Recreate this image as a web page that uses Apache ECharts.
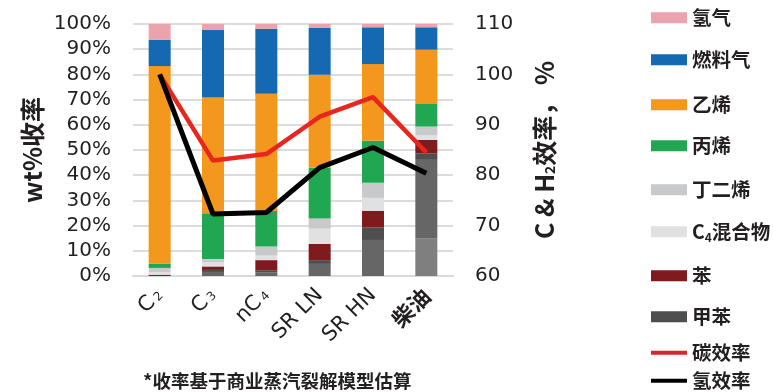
<!DOCTYPE html>
<html>
<head>
<meta charset="utf-8">
<script src="https://cdn.jsdelivr.net/npm/echarts@6/dist/echarts.min.js"></script>
<style>
  html, body { margin: 0; padding: 0; background: #fff; }
  #chart { width: 773px; height: 392px; }
</style>
</head>
<body>
<div id="chart"></div>
<script>
// Steam-cracking yields by feedstock (wt%, stacked) with carbon / hydrogen efficiency lines
const categories = ['C2', 'C3', 'nC4', 'SR LN', 'SR HN', '柴油'];

const hydrogen   = [6.2, 2.4, 1.9, 1.6, 1.3, 1.3];
const fuelGas    = [10.5, 26.8, 25.8, 18.5, 14.6, 8.9];
const ethylene   = [78.4, 45.9, 46.5, 36.9, 30.4, 21.5];
const propylene  = [1.7, 18.2, 14.1, 20.2, 16.7, 9.0];
const butadiene  = [1.7, 1.3, 3.6, 4.0, 6.0, 3.5];
const c4Mix      = [1.0, 1.6, 1.8, 6.1, 5.1, 1.8];
const benzene    = [0.5, 1.4, 4.0, 6.4, 6.7, 5.3];
const toluene    = [0, 0.8, 0.8, 1.5, 4.9, 2.3];
const pyGasoline = [0, 1.6, 1.5, 4.8, 14.3, 31.4];
const fuelOil    = [0, 0, 0, 0, 0, 15.0];

const carbonEff   = [100, 82.9, 84.2, 91.6, 95.5, 84.5];
const hydrogenEff = [100, 72.3, 72.6, 81.5, 85.5, 80.4];

const leftTicks  = [0, 10, 20, 30, 40, 50, 60, 70, 80, 90, 100];
const rightTicks = [60, 70, 80, 90, 100, 110];

const TXT = '#231f20';
const NUM_FONT = '"DejaVu Sans", sans-serif';
const CJK_FONT = '"Noto Sans CJK SC", "Noto Sans", sans-serif';

// bottom-up stacking order
const barDefs = [
  { name: '燃料油',   data: fuelOil,    color: '#7f7f80' },
  { name: '裂解汽油', data: pyGasoline, color: '#666667' },
  { name: '甲苯',     data: toluene,    color: '#4e4e4f' },
  { name: '苯',       data: benzene,    color: '#7f1a1f' },
  { name: 'C4混合物', data: c4Mix,      color: '#e1e1e1' },
  { name: '丁二烯',   data: butadiene,  color: '#c8c9ca' },
  { name: '丙烯',     data: propylene,  color: '#21a651' },
  { name: '乙烯',     data: ethylene,   color: '#f3971d' },
  { name: '燃料气',   data: fuelGas,    color: '#1469b2' },
  { name: '氢气',     data: hydrogen,   color: '#eca4ac' }
];

const series = barDefs.map(d => ({
  name: d.name,
  type: 'bar',
  stack: 'yield',
  yAxisIndex: 0,
  barWidth: 22,
  data: d.data,
  itemStyle: { color: d.color },
  emphasis: { disabled: true }
}));

series.push({
  name: '碳效率', type: 'line', yAxisIndex: 1, data: carbonEff,
  symbol: 'none', z: 5, lineStyle: { color: '#e8261d', width: 4.5 },
  itemStyle: { color: '#e8261d' }
});
series.push({
  name: '氢效率', type: 'line', yAxisIndex: 1, data: hydrogenEff,
  symbol: 'none', z: 6, lineStyle: { color: '#000000', width: 5 },
  itemStyle: { color: '#000000' }
});

// one legend block per entry so each row sits at its own height
const legendRows = [
  { name: '氢气',     top: 8,   color: '#eca4ac' },
  { name: '燃料气',   top: 50,  color: '#1469b2' },
  { name: '乙烯',     top: 95,  color: '#f3971d' },
  { name: '丙烯',     top: 136, color: '#21a651' },
  { name: '丁二烯',   top: 180, color: '#c8c9ca' },
  { name: 'C4混合物', top: 222, color: '#e1e1e1' },
  { name: '苯',       top: 266, color: '#7f1a1f' },
  { name: '甲苯',     top: 307, color: '#4e4e4f' },
  { name: '碳效率',   top: 343, color: '#d7262e', line: true },
  { name: '氢效率',   top: 371, color: '#000000', line: true }
];

const legends = legendRows.map(r => ({
  show: true,
  left: 651,
  top: r.top,
  orient: 'vertical',
  itemWidth: 36,
  itemHeight: r.line ? 4 : 11,
  itemGap: 0,
  padding: 0,
  selectedMode: false,
  data: [{ name: r.name, icon: 'rect', itemStyle: { color: r.color }, lineStyle: { width: 0 } }],
  formatter: n => n === 'C4混合物' ? '{m|C}{s|4}{m|混合物}' : '{m|' + n + '}',
  textStyle: {
    color: TXT,
    rich: {
      m: { fontFamily: CJK_FONT, fontWeight: 'bold', fontSize: 19.5, color: TXT },
      s: { fontFamily: CJK_FONT, fontWeight: 'bold', fontSize: 12, color: TXT, padding: [11, 0, 0, 0] }
    }
  }
}));

const option = {
  animation: false,
  backgroundColor: '#ffffff',
  grid: { left: 133, right: 320, top: 24, bottom: 116 },
  legend: legends,
  xAxis: {
    type: 'category',
    data: categories,
    axisLine: { lineStyle: { color: '#d9d9d9', width: 2 } },
    axisTick: { show: false },
    axisLabel: {
      rotate: 45,
      margin: 16,
      interval: 0,
      formatter: v => /^[\x00-\x7f]+$/.test(v)
        ? v.replace(/([A-Za-z\s]+)(\d)?/g, (m, a, d) => '{t|' + a + '}' + (d ? '{s|' + d + '}' : ''))
        : '{c|' + v + '}',
      rich: {
        t: { fontFamily: NUM_FONT, fontSize: 21, color: TXT, fontWeight: 'normal' },
        s: { fontFamily: NUM_FONT, fontSize: 12, color: TXT, fontWeight: 'normal', padding: [5, 0, 0, 3] },
        c: { fontFamily: CJK_FONT, fontSize: 22, color: TXT, fontWeight: 'bold' }
      },
      fontFamily: NUM_FONT, fontSize: 21, color: TXT
    }
  },
  yAxis: [
    {
      type: 'value', min: 0, max: 100, interval: 10,
      name: 'wt%收率',
      nameLocation: 'middle',
      nameGap: 88,
      nameRotate: 90,
      nameTextStyle: { fontFamily: CJK_FONT, fontWeight: 'bold', fontSize: 25, color: TXT },
      axisLine: { show: false },
      axisTick: { show: false },
      splitLine: { lineStyle: { color: '#dcdcdc', width: 2 } },
      axisLabel: {
        margin: 22,
        fontFamily: NUM_FONT, fontSize: 20, color: TXT,
        formatter: v => leftTicks.includes(v) ? v + '%' : ''
      }
    },
    {
      type: 'value', min: 60, max: 110, interval: 10,
      name: '{a|C & H}{s|2}{a|效率， %}',
      nameLocation: 'middle',
      nameGap: 78,
      nameRotate: 90,
      nameTextStyle: {
        rich: {
          a: { fontFamily: CJK_FONT, fontWeight: 'bold', fontSize: 25, color: TXT },
          s: { fontFamily: CJK_FONT, fontWeight: 'bold', fontSize: 14, color: TXT, padding: [12, 0, 0, 0] }
        }
      },
      axisLine: { show: false },
      axisTick: { show: false },
      splitLine: { show: false },
      axisLabel: {
        margin: 22,
        fontFamily: NUM_FONT, fontSize: 20, color: TXT,
        formatter: v => rightTicks.includes(v) ? String(v) : ''
      }
    }
  ],
  graphic: [{
    type: 'text',
    left: 143,
    top: 372,
    style: {
      text: '*收率基于商业蒸汽裂解模型估算',
      font: 'bold 18.5px "Noto Sans CJK SC", sans-serif',
      fill: TXT
    }
  }],
  series: series
};

const chart = echarts.init(document.getElementById('chart'), null, { renderer: 'canvas' });
chart.setOption(option);
</script>
</body>
</html>
